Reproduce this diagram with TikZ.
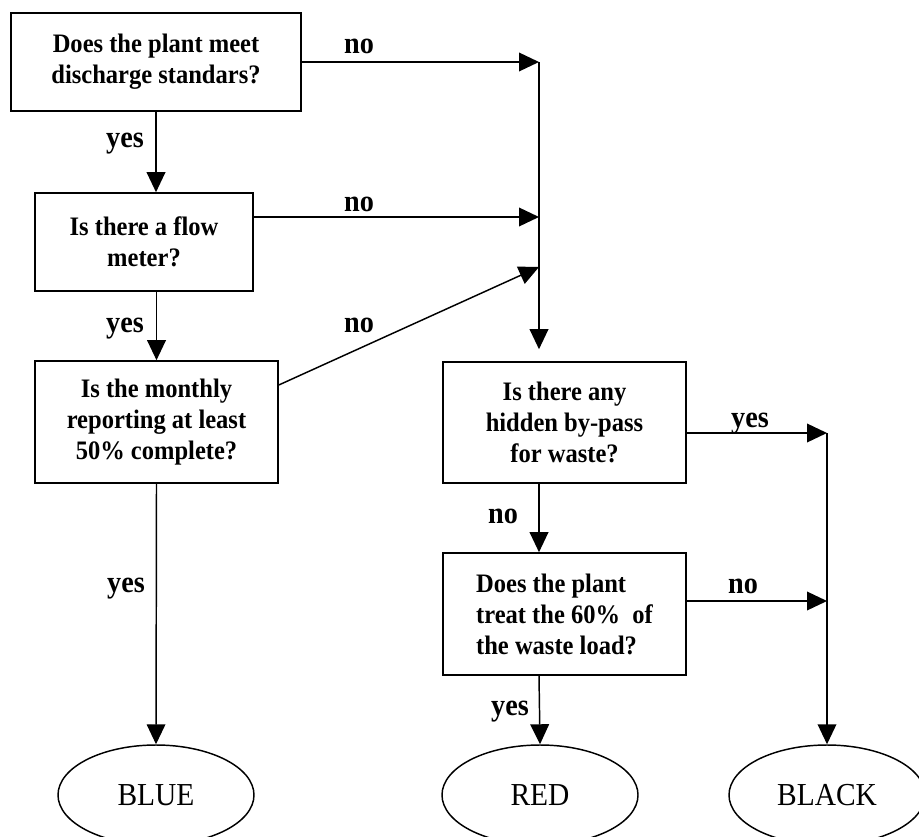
\documentclass[tikz,border=0pt]{standalone}
\usepackage{fontspec}
\setmainfont{Liberation Serif}
\newfontfamily\condserif[FakeStretch=0.92]{Liberation Serif}
\usetikzlibrary{arrows.meta,shapes.geometric}
\begin{document}
\begin{tikzpicture}[x=0.75pt,y=-0.75pt,
  qbox/.style={draw,line width=1.2pt,inner sep=0pt,align=center,
    font=\condserif\bfseries\fontsize{20}{23.25}\selectfont},
  term/.style={draw,ellipse,line width=1.1pt,inner sep=0pt,
    minimum width=147pt,minimum height=75pt,
    font=\condserif\fontsize{24}{26}\selectfont},
  arr/.style={line width=1.1pt,-{Triangle[length=15pt,width=14pt]}},
  lbl/.style={anchor=base,inner sep=0pt,font=\condserif\bfseries\fontsize{23}{26}\selectfont}]
\useasboundingbox (0,0) rectangle (919,837);
\clip (0,0) rectangle (919,837);

% question boxes
\node[qbox,minimum width=217.5pt,minimum height=73.5pt] (b1) at (156,62)
  {Does the plant meet\\discharge standars?};
\node[qbox,minimum width=163.5pt,minimum height=73.5pt] (b2) at (144,242)
  {Is there a flow\\meter?};
\node[qbox,minimum width=182.25pt,minimum height=91.5pt] (b3) at (156.5,422)
  {Is the monthly\\reporting at least\\50\%\ complete?};
\node[qbox,minimum width=182.25pt,minimum height=90.75pt] (b4) at (564.5,422.5)
  {Is there any\\hidden by-pass\\for waste?};
\node[qbox,minimum width=182.25pt,minimum height=91.5pt,align=left] (b5) at (564.5,614)
  {Does the plant\\treat the 60\%\ \ of\\the waste load?};

% terminal ellipses
\node[term] (blue) at (156,795) {BLUE};
\node[term] (red) at (540,795) {RED};
\node[term] (black) at (827,795) {BLACK};

% junction points
\coordinate (j1) at (539,62);
\coordinate (j2) at (539,217);
\coordinate (j3) at (539,267);
\coordinate (j4) at (827,433);
\coordinate (j5) at (827,601);

% left column
\draw[arr] (b1.south) -- (b1.south |- b2.north);
\draw[arr] (b3.north |- b2.south) -- (b3.north);
\draw[arr] (b3.south) -- (blue.north);

% "no" branches into collector
\draw[arr] (b1.east) -- (j1);
\draw[arr] (b2.east |- j2) -- (j2);
\draw[arr] ([yshift=27.75pt]b3.east) -- (j3);
\draw[arr,shorten >=9pt] (j1) -- (j1 |- b4.north);

% right column
\draw[arr] (b4.south -| j1) -- (b5.north -| j1);
\draw[arr] (b5.south -| j1) -- (red.north);
\draw[arr] (b4.east |- j4) -- (j4);
\draw[arr] (b5.east |- j5) -- (j5);
\draw[arr] (j4) -- (black.north);

% labels
\node[lbl] at (359,54) {no};
\node[lbl] at (359,212) {no};
\node[lbl] at (359,332) {no};
\node[lbl] at (125,148) {yes};
\node[lbl] at (125,332) {yes};
\node[lbl] at (126,592) {yes};
\node[lbl] at (503,523) {no};
\node[lbl] at (750,427) {yes};
\node[lbl] at (743,593) {no};
\node[lbl] at (510,715) {yes};
\end{tikzpicture}
\end{document}
